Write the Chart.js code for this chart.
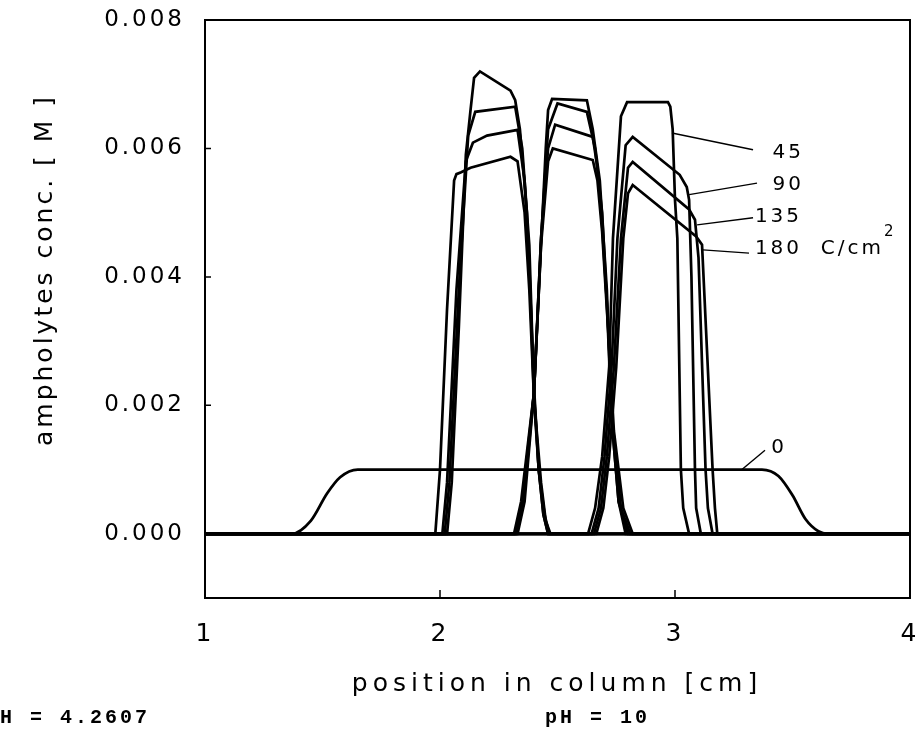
<!DOCTYPE html>
<html>
<head>
<meta charset="utf-8">
<script src="https://cdn.jsdelivr.net/npm/chart.js@4.4.0/dist/chart.umd.min.js"></script>
<style>
    html, body { margin: 0; background: #fff; }
    canvas { display: block; }
</style>
</head>
<body>
<canvas id="grafica" width="918" height="735"></canvas>
<script>
// tick values
const xTicks = [1, 2, 3, 4];
const yTicks = [0, 0.002, 0.004, 0.006, 0.008];

// charge passed, C/cm2
const charges = ['45', '90', '135', '180'];

// initial profile (0 C/cm2), [position cm, conc M]
const initial = [[1, 0], [1.37, 0], [1.45, 0.0002], [1.52, 0.00063], [1.575, 0.00088], [1.65, 0.001],
    [3.37, 0.001], [3.44, 0.0009], [3.50, 0.0006], [3.555, 0.00023], [3.61, 0.00004], [3.65, 0], [4, 0]];

// left ampholyte
const left45 = [[1, 0], [2.03, 0], [2.05, 0.0008], [2.08, 0.0032], [2.11, 0.0059], [2.13, 0.0066], [2.145, 0.0071],
    [2.17, 0.0072], [2.30, 0.0069], [2.32, 0.00675], [2.34, 0.0063], [2.37, 0.0050], [2.40, 0.0023],
    [2.42, 0.0010], [2.44, 0.0003], [2.46, 0], [4, 0]];
const left90 = [[1, 0], [2.02, 0], [2.04, 0.0008], [2.08, 0.0038], [2.12, 0.0062], [2.15, 0.00657],
    [2.32, 0.00665], [2.35, 0.0060], [2.38, 0.0045], [2.40, 0.0022], [2.42, 0.0010], [2.44, 0.0003], [2.46, 0], [4, 0]];
const left135 = [[1, 0], [2.01, 0], [2.03, 0.0008], [2.07, 0.0038], [2.11, 0.0058], [2.14, 0.00609], [2.20, 0.0062],
    [2.33, 0.00629], [2.36, 0.0055], [2.38, 0.0042], [2.40, 0.0021], [2.42, 0.0010], [2.445, 0.0003], [2.465, 0], [4, 0]];
const left180 = [[1, 0], [1.98, 0], [2.0, 0.001], [2.03, 0.0035], [2.06, 0.0055], [2.07, 0.0056], [2.09, 0.00563],
    [2.13, 0.0057], [2.30, 0.00587], [2.33, 0.0058], [2.36, 0.0050], [2.38, 0.0038], [2.40, 0.0021],
    [2.43, 0.0008], [2.45, 0.0002], [2.47, 0], [4, 0]];

// middle ampholyte
const mid45 = [[1, 0], [2.33, 0], [2.36, 0.0005], [2.40, 0.0022], [2.43, 0.0045], [2.45, 0.006], [2.46, 0.0066],
    [2.477, 0.00677], [2.625, 0.00675], [2.65, 0.0063], [2.68, 0.0055], [2.71, 0.0038], [2.73, 0.0018],
    [2.76, 0.0005], [2.79, 0], [4, 0]];
const mid90 = [[1, 0], [2.325, 0], [2.355, 0.0005], [2.40, 0.0022], [2.43, 0.0046], [2.46, 0.0063], [2.50, 0.0067],
    [2.625, 0.00657], [2.66, 0.0060], [2.69, 0.0050], [2.71, 0.0036], [2.73, 0.0018], [2.76, 0.0005], [2.80, 0], [4, 0]];
const mid135 = [[1, 0], [2.32, 0], [2.35, 0.0005], [2.40, 0.0022], [2.43, 0.0046], [2.46, 0.0060], [2.49, 0.00637],
    [2.65, 0.00618], [2.67, 0.0057], [2.69, 0.0048], [2.715, 0.0033], [2.735, 0.0017], [2.77, 0.0004], [2.81, 0], [4, 0]];
const mid180 = [[1, 0], [2.315, 0], [2.345, 0.0005], [2.40, 0.0022], [2.43, 0.0045], [2.46, 0.0058], [2.48, 0.0060],
    [2.65, 0.00582], [2.67, 0.0055], [2.69, 0.0047], [2.715, 0.0032], [2.74, 0.0016], [2.78, 0.0004], [2.82, 0], [4, 0]];

// right ampholyte
const right45 = [[1, 0], [2.63, 0], [2.66, 0.0004], [2.69, 0.0012], [2.72, 0.0026], [2.736, 0.0046], [2.77, 0.0065],
    [2.796, 0.00672], [2.97, 0.00672], [2.98, 0.00665], [2.99, 0.0063], [3.00, 0.0052], [3.01, 0.0046],
    [3.025, 0.0010], [3.035, 0.0004], [3.06, 0], [4, 0]];
const right90 = [[1, 0], [2.645, 0], [2.675, 0.0004], [2.70, 0.0012], [2.73, 0.0026], [2.755, 0.0046], [2.79, 0.00605],
    [2.82, 0.00618], [3.02, 0.00559], [3.05, 0.0054], [3.06, 0.0052], [3.07, 0.0040], [3.085, 0.0010],
    [3.09, 0.0004], [3.11, 0], [4, 0]];
const right135 = [[1, 0], [2.655, 0], [2.685, 0.0004], [2.71, 0.0012], [2.74, 0.0026], [2.77, 0.0046], [2.80, 0.0057],
    [2.82, 0.00579], [3.06, 0.00505], [3.085, 0.00489], [3.10, 0.0043], [3.13, 0.0010], [3.14, 0.0004], [3.16, 0], [4, 0]];
const right180 = [[1, 0], [2.665, 0], [2.695, 0.0004], [2.72, 0.0012], [2.75, 0.0026], [2.78, 0.0046], [2.80, 0.0053],
    [2.82, 0.00543], [3.09, 0.00463], [3.115, 0.0045], [3.16, 0.0010], [3.17, 0.0004], [3.18, 0], [4, 0]];

const profiles = {
    '45': [left45, mid45, right45],
    '90': [left90, mid90, right90],
    '135': [left135, mid135, right135],
    '180': [left180, mid180, right180]
};

// curve labels in data units: text position and leader line
const curveLabels = [
    { text: '45', x: 3.415, y: 0.00594, from: [2.987, 0.00624], to: [3.332, 0.00598] },
    { text: '90', x: 3.415, y: 0.00543, from: [3.06, 0.00528], to: [3.349, 0.00546] },
    { text: '135', x: 3.34, y: 0.00493, from: [3.094, 0.00481], to: [3.332, 0.00492] },
    { text: '180  C/cm', x: 3.34, y: 0.00443, from: [3.119, 0.00442], to: [3.315, 0.00437], sup: '2' },
    { text: '0', x: 3.41, y: 0.00134, from: [3.281, 0.00099], to: [3.383, 0.0013] }
];

const toPoints = arr => arr.map(p => ({ x: p[0], y: p[1] }));

const datasets = [{
    label: '0',
    data: toPoints(initial),
    borderColor: '#000',
    borderWidth: 2.8,
    pointRadius: 0,
    cubicInterpolationMode: 'monotone'
}];
charges.forEach(q => {
    profiles[q].forEach((arr, i) => {
        datasets.push({
            label: q + ' C/cm2 #' + (i + 1),
            data: toPoints(arr),
            borderColor: '#000',
            borderWidth: 2.7,
            pointRadius: 0,
            tension: 0
        });
    });
});

const sans = 'DejaVu Sans';

// no extra room around the plot for the end tick labels
const sinRelleno = s => {
    s.paddingTop = 0;
    s.paddingBottom = 0;
    s.paddingLeft = 0;
    s.paddingRight = 0;
};

const marcoYTextos = {
    id: 'marcoYTextos',
    beforeDraw(chart) {
        chart.ctx.letterSpacing = '3px';
    },
    afterDraw(chart) {
        const { ctx, chartArea, scales } = chart;
        ctx.save();
        // frame
        ctx.strokeStyle = '#000';
        ctx.lineWidth = 2;
        ctx.strokeRect(chartArea.left, chartArea.top, chartArea.right - chartArea.left, chartArea.bottom - chartArea.top);

        // inward tick marks
        ctx.lineWidth = 1.5;
        ctx.beginPath();
        xTicks.forEach(v => {
            const px = scales.x.getPixelForValue(v);
            ctx.moveTo(px, chartArea.bottom);
            ctx.lineTo(px, chartArea.bottom - 8);
        });
        yTicks.forEach(v => {
            const py = scales.y.getPixelForValue(v);
            ctx.moveTo(chartArea.left, py);
            ctx.lineTo(chartArea.left + 6, py);
        });
        ctx.stroke();

        // axis titles
        ctx.fillStyle = '#000';
        ctx.textBaseline = 'middle';
        ctx.textAlign = 'center';
        ctx.font = '25px "' + sans + '"';
        ctx.letterSpacing = '5px';
        ctx.fillText('position in column [cm]', 557, 684);
        ctx.save();
        ctx.translate(45, 270);
        ctx.rotate(-Math.PI / 2);
        ctx.letterSpacing = '3px';
        ctx.fillText('ampholytes conc. [ M ]', 0, 0);
        ctx.restore();

        // curve labels
        ctx.lineWidth = 1.4;
        ctx.textAlign = 'left';
        ctx.letterSpacing = '3px';
        curveLabels.forEach(l => {
            ctx.beginPath();
            ctx.moveTo(scales.x.getPixelForValue(l.from[0]), scales.y.getPixelForValue(l.from[1]));
            ctx.lineTo(scales.x.getPixelForValue(l.to[0]), scales.y.getPixelForValue(l.to[1]));
            ctx.stroke();
            ctx.font = '20px "' + sans + '"';
            const px = scales.x.getPixelForValue(l.x);
            const py = scales.y.getPixelForValue(l.y);
            ctx.fillText(l.text, px, py);
            if (l.sup) {
                const w = ctx.measureText(l.text).width;
                ctx.font = '15px "' + sans + '"';
                ctx.fillText(l.sup, px + w, py - 17);
            }
        });

        // pH notes under the chart
        ctx.font = 'bold 20px "Liberation Mono"';
        ctx.letterSpacing = '3px';
        ctx.fillText('pH = 4.2607', -15, 718);
        ctx.fillText('pH = 10', 545, 718);
        ctx.restore();
    }
};

const ctx = document.getElementById('grafica').getContext('2d');
const chart = new Chart(ctx, {
    type: 'line',
    data: { datasets: datasets },
    options: {
        responsive: false,
        animation: false,
        layout: { autoPadding: false, padding: { left: 0, right: 8, top: 20, bottom: 37 } },
        plugins: {
            legend: { display: false },
            tooltip: { enabled: false }
        },
        scales: {
            x: {
                type: 'linear',
                min: 1,
                max: 4,
                afterBuildTicks: s => { s.ticks = xTicks.map(v => ({ value: v })); },
                afterFit: s => { s.height = 100; sinRelleno(s); },
                grid: { display: false },
                border: { color: '#000', width: 2 },
                ticks: {
                    color: '#000',
                    padding: 13,
                    maxRotation: 0,
                    font: { family: sans, size: 25 },
                    callback: v => String(v)
                }
            },
            y: {
                type: 'linear',
                min: -0.001,
                max: 0.008,
                afterBuildTicks: s => { s.ticks = yTicks.map(v => ({ value: v })); },
                afterFit: s => { s.width = 205; sinRelleno(s); },
                grid: { display: false },
                border: { color: '#000', width: 2 },
                ticks: {
                    color: '#000',
                    padding: 12,
                    font: { family: sans, size: 23 },
                    callback: v => v.toFixed(3)
                }
            }
        }
    },
    plugins: [marcoYTextos]
});
</script>
</body>
</html>
